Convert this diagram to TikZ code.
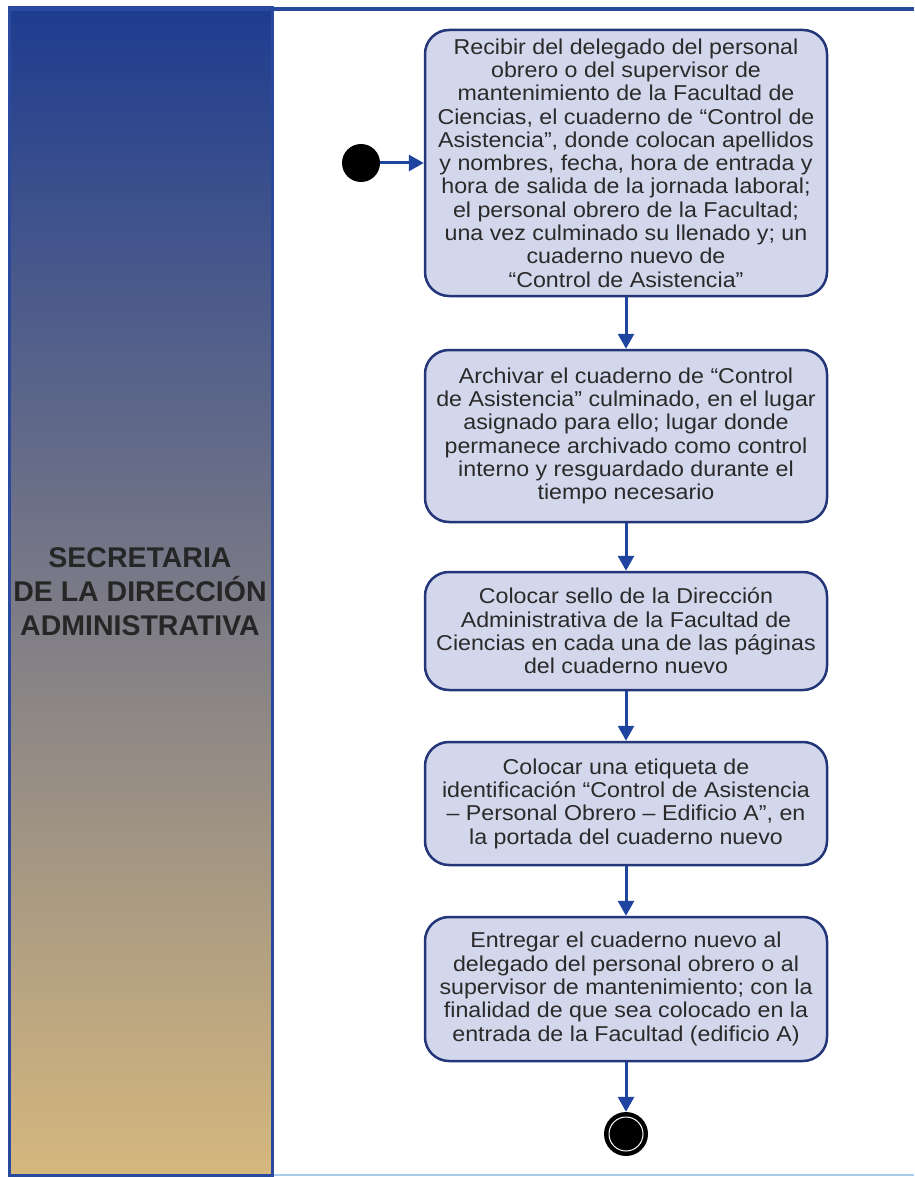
\documentclass[tikz,border=0pt]{standalone}
\usepackage{fontspec}
\setmainfont{Liberation Sans}
\newfontfamily\actfont[FakeStretch=1.08]{Liberation Sans}
\usetikzlibrary{arrows.meta}

\definecolor{lanetop}{HTML}{1E3C8F}
\definecolor{lanemid}{HTML}{747A98}
\definecolor{lanebot}{HTML}{D6B87E}
\definecolor{frameblue}{HTML}{2A4AA0}
\definecolor{framelight}{HTML}{A8CCEA}
\definecolor{actfill}{HTML}{D3D7EB}
\definecolor{actdraw}{HTML}{24367A}
\definecolor{flowblue}{HTML}{1E44A0}
\definecolor{txtgray}{HTML}{2A2A2A}

\begin{document}
\begin{tikzpicture}[x=1pt, y=-1pt,
        activity/.style={draw=actdraw, line width=2.5pt, fill=actfill, rounded corners=24pt,
            minimum width=402pt, align=center, text=txtgray, inner sep=0pt,
            font=\actfont\fontsize{21.5}{23.3}\selectfont},
        flow/.style={draw=flowblue, line width=3pt, -{Triangle[width=16pt,length=15pt]}},
        initial/.style={circle, fill=black, minimum size=38pt, inner sep=0pt},
        final/.style={circle, fill=black, minimum size=44pt, inner sep=0pt}]
    \useasboundingbox (0,0) rectangle (914,1177);
    \fill[white] (0,0) rectangle (914,1177);

    % swimlane
    \shade[top color=lanetop, middle color=lanemid, bottom color=lanebot] (9,8) rectangle (272,1175);
    \draw[framelight, line width=2pt] (272,1175) -- (914,1175);
    \draw[frameblue, line width=3pt] (9,1175) -- (9,8) -- (272,8) -- (272,1175) -- cycle;
    \draw[frameblue, line width=4pt] (9,9) -- (914,9);
    \node[align=center, text=black!85, font=\bfseries\fontsize{28.5}{34}\selectfont] (lane) at (140,592)
        {SECRETARIA\\DE LA DIRECCIÓN\\ADMINISTRATIVA};

    % activities
    \node[initial] (start) at (361,163) {};
    \node[activity, minimum height=266pt] (recibir) at (626,163)
        {Recibir del delegado del personal\\obrero o del supervisor de\\mantenimiento de la Facultad de\\Ciencias, el cuaderno de “Control de\\Asistencia”, donde colocan apellidos\\y nombres, fecha, hora de entrada y\\hora de salida de la jornada laboral;\\el personal obrero de la Facultad;\\una vez culminado su llenado y; un\\cuaderno nuevo de\\“Control de Asistencia”};
    \node[activity, minimum height=172pt] (archivar) at (626,436)
        {Archivar el cuaderno de “Control\\de Asistencia” culminado, en el lugar\\asignado para ello; lugar donde\\permanece archivado como control\\interno y resguardado durante el\\tiempo necesario};
    \node[activity, minimum height=118pt] (sello) at (626,631)
        {Colocar sello de la Dirección\\Administrativa de la Facultad de\\Ciencias en cada una de las páginas\\del cuaderno nuevo};
    \node[activity, minimum height=123pt] (etiqueta) at (626,803.5)
        {Colocar una etiqueta de\\identificación “Control de Asistencia\\– Personal Obrero – Edificio A”, en\\la portada del cuaderno nuevo};
    \node[activity, minimum height=144pt] (entregar) at (626,989)
        {Entregar el cuaderno nuevo al\\delegado del personal obrero o al\\supervisor de mantenimiento; con la\\finalidad de que sea colocado en la\\entrada de la Facultad (edificio A)};
    \node[final] (fin) at (626,1134) {};
    \draw[white, line width=1pt] (fin.center) circle (17);

    % control flow
    \draw[flow] (start) -- (recibir);
    \draw[flow] (recibir) -- (archivar);
    \draw[flow] (archivar) -- (sello);
    \draw[flow] (sello) -- (etiqueta);
    \draw[flow] (etiqueta) -- (entregar);
    \draw[flow] (entregar) -- (fin);
\end{tikzpicture}
\end{document}
